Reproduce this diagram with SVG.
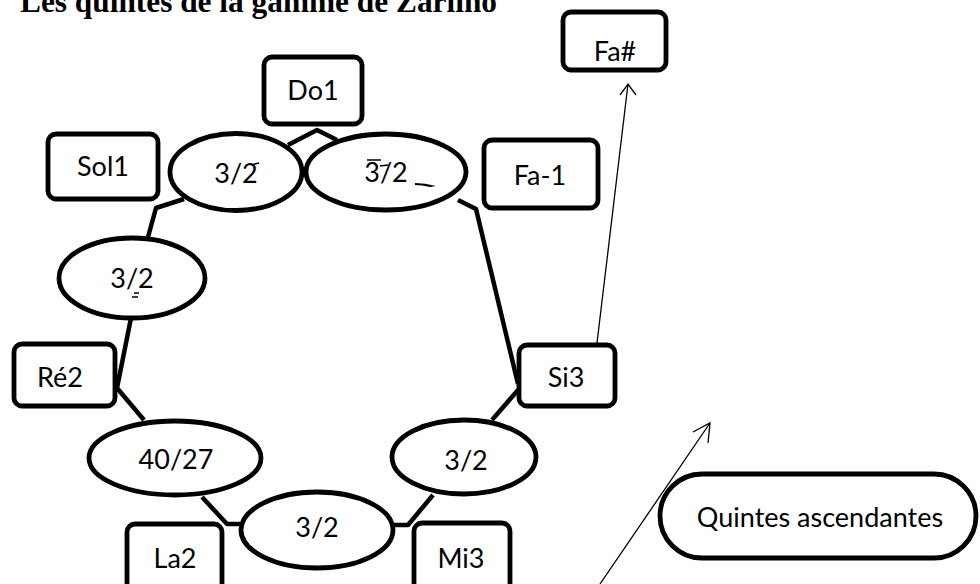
<svg xmlns="http://www.w3.org/2000/svg" width="980" height="584" viewBox="0 0 980 584">
  <style>
    .box { fill: #fff; stroke: #000; stroke-width: 4.8; }
    .oval { fill: #fff; stroke: #000; stroke-width: 4.8; }
    .lbl { font-family: Lato, "Open Sans", "Liberation Sans", sans-serif; font-size: 27px; fill: #000; text-anchor: middle; dominant-baseline: central; }
    .link { fill: none; stroke: #000; stroke-width: 4.5; stroke-linejoin: round; }
    .thin { fill: none; stroke: #000; stroke-width: 1.3; }
    .title { font-family: "Liberation Serif", "Times New Roman", serif; font-weight: bold; font-size: 31px; fill: #000; }
  </style>
  <rect width="980" height="584" fill="#fff"/>

  <text class="title" x="20" y="12" textLength="477" lengthAdjust="spacingAndGlyphs">Les quintes de la gamme de Zarlino</text>

  <!-- connectors between notes and intervals -->
  <g id="connectors">
    <path class="link" d="M288,145 L317,130 L337,140"/>
    <path class="link" d="M184,199 L156,208 L148,237"/>
    <path class="link" d="M131,318 L117,388 L144,420"/>
    <path class="link" d="M202,497 L227,524 L240,524"/>
    <path class="link" d="M393,525 L408,525 L433,495"/>
    <path class="link" d="M492,420 L518,390"/>
    <path class="link" d="M458,200 L476,209 L518,384"/>
    <!-- thin arrows -->
    <path class="thin" d="M597,343 L628,84 M620,95 L628,84 L636,95"/>
    <path class="thin" d="M600,584 L710,423 M693,432 L710,423 L708,443"/>
  </g>

  <!-- interval ovals -->
  <g id="q-sol-do">
    <ellipse class="oval" cx="236" cy="172" rx="66" ry="38.5"/>
    <text class="lbl" x="236" y="172">3/2</text>
    <path d="M251,165 L259,163" stroke="#000" stroke-width="1.5"/>
  </g>
  <g id="q-do-fa">
    <ellipse class="oval" cx="386" cy="172" rx="80" ry="38"/>
    <text class="lbl" x="386" y="171">3/2</text>
    <path d="M367,160 L381,160 M380,166 L388,165" stroke="#000" stroke-width="1.5"/>
    <path d="M415,183 Q425,183 436,186 L430,187 Q422,185 415,185 Z" fill="#000"/>
  </g>
  <g id="q-re-sol">
    <ellipse class="oval" cx="132" cy="278" rx="73" ry="40"/>
    <text class="lbl" x="132" y="277">3/2</text>
    <path d="M134,293 L139,293 M132,297 L138,297" stroke="#000" stroke-width="1.6"/>
  </g>
  <g id="q-la-re">
    <ellipse class="oval" cx="175" cy="458" rx="86" ry="37"/>
    <text class="lbl" x="176" y="458">40/27</text>
  </g>
  <g id="q-mi-la">
    <ellipse class="oval" cx="317" cy="530" rx="76" ry="38"/>
    <text class="lbl" x="317" y="526">3/2</text>
  </g>
  <g id="q-si-mi">
    <ellipse class="oval" cx="464" cy="457" rx="72" ry="37"/>
    <text class="lbl" x="466" y="459">3/2</text>
  </g>

  <!-- note boxes -->
  <g id="do1">
    <rect class="box" x="264" y="57" width="98" height="67" rx="8"/>
    <text class="lbl" x="313" y="89">Do1</text>
  </g>
  <g id="sol1">
    <rect class="box" x="48" y="134" width="110" height="65" rx="8"/>
    <text class="lbl" x="103" y="165">Sol1</text>
  </g>
  <g id="fa-1">
    <rect class="box" x="484" y="140" width="114" height="68" rx="8"/>
    <text class="lbl" x="540" y="174">Fa-1</text>
  </g>
  <g id="re2">
    <rect class="box" x="14" y="344" width="101" height="62" rx="8"/>
    <text class="lbl" x="60" y="376">Ré2</text>
  </g>
  <g id="si3">
    <rect class="box" x="519" y="345" width="96" height="61" rx="8"/>
    <text class="lbl" x="566" y="376">Si3</text>
  </g>
  <g id="la2">
    <rect class="box" x="127" y="524" width="95" height="70" rx="8"/>
    <text class="lbl" x="175" y="557">La2</text>
  </g>
  <g id="mi3">
    <rect class="box" x="414" y="523" width="96" height="70" rx="8"/>
    <text class="lbl" x="461" y="557">Mi3</text>
  </g>
  <g id="fa-sharp">
    <rect class="box" x="563" y="12" width="103" height="58" rx="8"/>
    <text class="lbl" x="615" y="50">Fa#</text>
  </g>
  <g id="legend">
    <rect class="box" x="660" y="474" width="316" height="84" rx="42"/>
    <text class="lbl" x="820" y="516">Quintes ascendantes</text>
  </g>
</svg>
